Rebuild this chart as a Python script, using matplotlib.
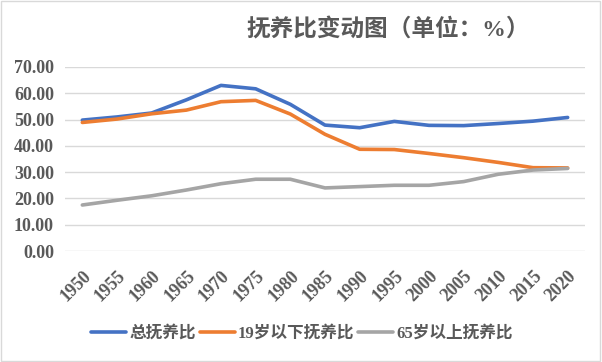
import matplotlib
matplotlib.use("Agg")
import matplotlib.pyplot as plt
from matplotlib.patches import Rectangle

years = ["1950", "1955", "1960", "1965", "1970", "1975", "1980", "1985",
         "1990", "1995", "2000", "2005", "2010", "2015", "2020"]
total = [49.8, 51.0, 52.5, 57.5, 63.0, 61.7, 55.8, 47.9, 46.9, 49.3, 47.8, 47.7, 48.5, 49.4, 50.8]
young = [48.9, 50.2, 52.2, 53.6, 56.8, 57.3, 52.1, 44.4, 38.7, 38.6, 37.1, 35.5, 33.7, 31.7, 31.6]
old = [17.5, 19.3, 21.0, 23.2, 25.6, 27.3, 27.3, 24.0, 24.5, 25.0, 25.0, 26.4, 29.2, 30.8, 31.4]
series_names = ["总抚养比", "19岁以下抚养比", "65岁以上抚养比"]
colors = ["#4472C4", "#ED7D31", "#A5A5A5"]
title = "抚养比变动图（单位：%）"

fam = ["Liberation Serif", "Noto Sans CJK SC", "DejaVu Sans"]
plt.rcParams["font.family"] = fam
txtc = "#595959"

fig = plt.figure(figsize=(6.02, 3.62), dpi=100)
fig.patches.append(Rectangle((0.002, 0.003), 0.995, 0.993, transform=fig.transFigure,
                             fill=False, edgecolor="#D9D9D9", linewidth=1.0))
ax = fig.add_axes([65/602, 1-251/362, 520/602, 184/362])

x = list(range(len(years)))
for vals, name, c in zip([total, young, old], series_names, colors):
    ax.plot(x, vals, color=c, linewidth=2.6, label=name, solid_capstyle="round")

ax.set_xlim(-0.5, len(years) - 0.5)
ax.set_ylim(0, 70)
ax.set_yticks(range(0, 71, 10))
ax.set_yticklabels([f"{v:.2f}" for v in range(0, 71, 10)], fontsize=13,
                   fontweight="bold", color=txtc)
ax.set_xticks(x)
ax.set_xticklabels(years, rotation=45, ha="right", rotation_mode="anchor",
                   fontsize=13, fontweight="bold", color=txtc)
ax.tick_params(axis="y", length=0, pad=8)
ax.tick_params(axis="x", length=0, pad=12)
ax.grid(axis="y", color="#D9D9D9", linewidth=1)
ax.set_axisbelow(True)
for s in ax.spines.values():
    s.set_visible(False)

fig.text(388/602, 1-30/362, title, ha="center", va="center", fontsize=17,
         fontweight="bold", color=txtc)

leg = fig.legend(loc="center", bbox_to_anchor=(302/602, 1-334/362), ncol=3, frameon=False,
                 prop={"size": 12, "weight": "bold"}, handlelength=2.1,
                 columnspacing=0.2, handletextpad=0.2)
for t in leg.get_texts():
    t.set_color(txtc)

fig.savefig("out.png", dpi=100)
